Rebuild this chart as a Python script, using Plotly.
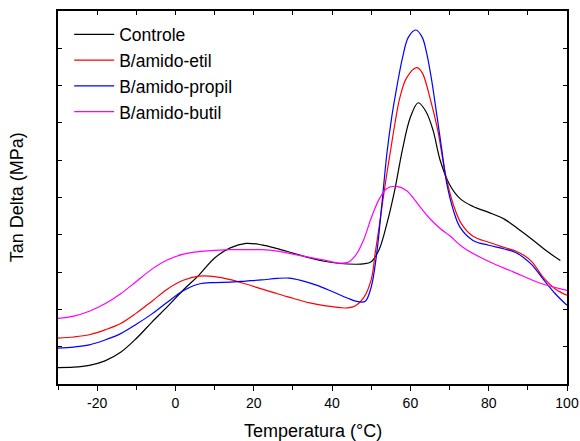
import plotly.graph_objects as go

# Data (temperature in °C, tan delta in arbitrary units)
controle_x = [-30, -26, -22, -18, -14, -10, -6, -2, 2, 6, 10, 14, 18, 22, 26, 30, 34, 38, 42, 46, 48, 50, 52, 54, 56, 58, 60, 62, 64, 65.8, 67.6, 70, 72.7, 76, 80, 84, 88, 92, 95, 98.3]
controle_y = [0.44, 0.45, 0.50, 0.62, 0.85, 1.22, 1.66, 2.08, 2.52, 2.92, 3.38, 3.65, 3.77, 3.73, 3.63, 3.51, 3.39, 3.29, 3.23, 3.21, 3.22, 3.28, 3.6, 4.3, 5.2, 6.3, 7.15, 7.54, 7.3, 6.8, 6.0, 5.35, 4.97, 4.76, 4.6, 4.42, 4.12, 3.8, 3.55, 3.31]

etil_x = [-30, -26, -22, -18, -14, -10, -6, -2, 2, 6, 10, 14, 18, 22, 26, 30, 34, 38, 42, 44, 46, 48, 50, 51, 52, 53, 54, 55, 56, 57.3, 59, 61.6, 63, 65, 67, 69, 71, 73, 76, 80, 84, 87, 89, 91, 94, 97, 100]
etil_y = [1.23, 1.26, 1.32, 1.45, 1.62, 1.9, 2.22, 2.55, 2.78, 2.89, 2.88, 2.8, 2.68, 2.55, 2.42, 2.3, 2.18, 2.1, 2.05, 2.04, 2.1, 2.3, 2.8, 3.5, 4.2, 4.95, 5.65, 6.3, 6.95, 7.67, 8.2, 8.48, 8.35, 7.67, 6.8, 5.6, 4.8, 4.3, 3.96, 3.8, 3.66, 3.56, 3.45, 3.28, 2.85, 2.55, 2.38]

propil_x = [-30, -26, -22, -18, -14, -10, -6, -2, 2, 6, 10, 14, 18, 22, 26, 29, 32, 36, 40, 44, 47, 48.5, 50, 51.4, 52.7, 54, 55.3, 56.5, 58, 59.5, 61.4, 63, 64.2, 65.5, 66.7, 68, 69.3, 71, 72.7, 76, 80, 84, 87, 89, 91, 94, 97, 100]
propil_y = [0.96, 0.99, 1.05, 1.18, 1.35, 1.6, 1.88, 2.2, 2.5, 2.68, 2.72, 2.73, 2.76, 2.79, 2.83, 2.84, 2.78, 2.65, 2.48, 2.3, 2.2, 2.22, 2.6, 3.5, 4.8, 6.18, 7.2, 7.94, 8.75, 9.3, 9.49, 9.3, 8.85, 8.1, 7.25, 6.3, 5.37, 4.65, 4.2, 3.85, 3.72, 3.62, 3.52, 3.38, 3.2, 2.8, 2.42, 2.11]

butil_x = [-30, -26, -22, -18, -14, -10, -6, -2, 2, 6, 10, 14, 18, 22, 26, 30, 34, 38, 42, 44, 46, 48, 50, 52, 54, 56.5, 59, 61, 63, 65, 67.6, 70, 73.5, 79.5, 86.4, 93.2, 100]
butil_y = [1.76, 1.82, 1.95, 2.15, 2.42, 2.75, 3.08, 3.33, 3.48, 3.55, 3.58, 3.6, 3.6, 3.6, 3.56, 3.48, 3.4, 3.32, 3.24, 3.26, 3.45, 3.85, 4.45, 4.95, 5.24, 5.3, 5.19, 4.95, 4.68, 4.43, 4.17, 3.98, 3.66, 3.31, 3.0, 2.7, 2.51]

names = ["Controle", "B/amido-etil", "B/amido-propil", "B/amido-butil"]
colors = ["#000000", "#ff0000", "#0000ff", "#ff00ff"]
series = [(controle_x, controle_y), (etil_x, etil_y), (propil_x, propil_y), (butil_x, butil_y)]

x_ticks = [-20, 0, 20, 40, 60, 80, 100]
x_ticklabels = ["-20", "0", "20", "40", "60", "80", "100"]

fig = go.Figure()
for (xs, ys), n, c in zip(series, names, colors):
    fig.add_trace(go.Scatter(x=xs, y=ys, mode="lines", name=n,
                             line=dict(color=c, width=1.2, shape="spline", smoothing=1.0)))

font = "Liberation Sans, Arial, sans-serif"
fig.update_layout(
    width=580, height=441,
    margin=dict(l=58, r=13, t=11, b=57),
    paper_bgcolor="white", plot_bgcolor="white",
    font=dict(family=font, color="black"),
    showlegend=True,
    legend=dict(x=0.022, y=0.985, xanchor="left", yanchor="top",
                font=dict(size=17.5, family=font), bgcolor="rgba(0,0,0,0)",
                itemwidth=40, tracegroupgap=0),
    xaxis=dict(range=[-30, 100], tickvals=x_ticks, ticktext=x_ticklabels, ticks="outside", ticklen=5,
               tickwidth=1, tickcolor="black", automargin=False,
               minor=dict(dtick=10, tick0=-30, ticks="outside", ticklen=4, tickcolor="black"),
               showline=True, linecolor="black", linewidth=1.5, showgrid=False, zeroline=False,
               tickfont=dict(size=14)),
    xaxis2=dict(range=[-30, 100], overlaying="x", side="top", tickvals=list(range(-30, 101, 10)),
                ticks="inside", ticklen=4, tickcolor="black", showticklabels=False, automargin=False,
                showline=True, linecolor="black", linewidth=1.5, showgrid=False, zeroline=False),
    yaxis=dict(range=[0, 10], dtick=1, tick0=0, ticks="inside", ticklen=4, tickcolor="black",
               showticklabels=False, showline=True, linecolor="black", linewidth=1.5, automargin=False,
               mirror="ticks", showgrid=False, zeroline=False),
    annotations=[
        dict(text="Temperatura (°C)", xref="paper", yref="paper", x=0.5, y=-0.126,
             xanchor="center", yanchor="middle", showarrow=False, font=dict(size=18)),
        dict(text="Tan Delta (MPa)", xref="paper", yref="paper", x=-0.081, y=0.5,
             xanchor="center", yanchor="middle", textangle=-90, showarrow=False, font=dict(size=18)),
    ],
)
# dummy trace to activate top axis
fig.add_trace(go.Scatter(x=[None], y=[None], xaxis="x2", showlegend=False, hoverinfo="skip"))

fig.write_html("out.html", config={"displayModeBar": False},
               post_script="document.body.style.margin='0';document.body.style.overflow='hidden';")
